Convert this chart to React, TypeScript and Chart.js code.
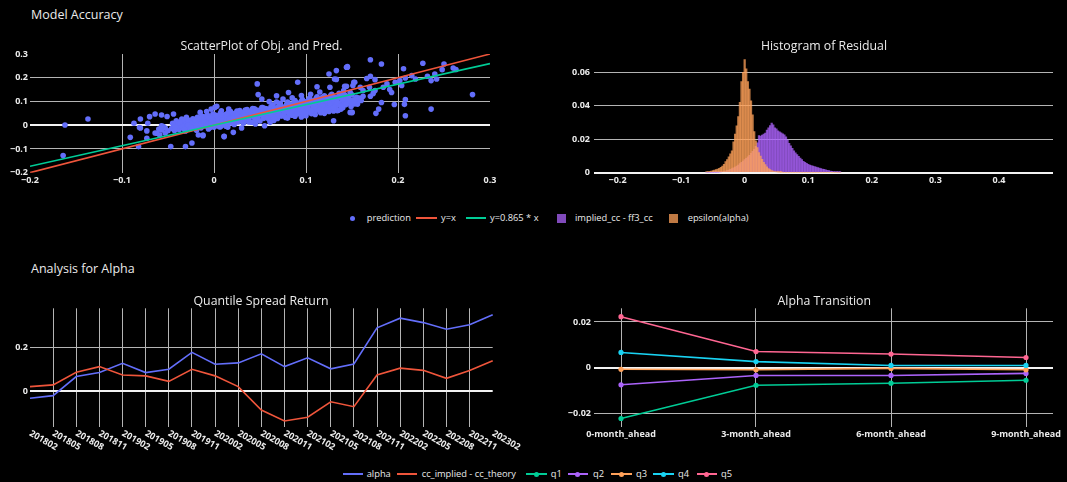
import React, { useEffect, useRef } from "react";
import { Chart, registerables } from "chart.js";

Chart.register(...registerables);

// ---------------- DATA ----------------
// ScatterPlot of Obj. and Pred. : [objective, prediction]
const predictionPoints: [number, number][] = [
  // sparse points on the left
  [-0.162, 0.001], [-0.137, 0.026], [-0.164, -0.128], [-0.087, 0.008], [-0.08, 0.026], [-0.07, 0.036],
  [-0.064, 0.047], [-0.057, 0.043], [-0.051, 0.037], [-0.044, 0.047], [-0.072, 0.008], [-0.08, -0.012],
  [-0.091, -0.051], [-0.082, -0.09], [-0.073, -0.055], [-0.064, -0.033], [-0.059, -0.041], [-0.055, -0.006],
  [-0.047, -0.09], [-0.031, -0.09], [-0.024, -0.075], [-0.017, -0.041], [-0.012, -0.044], [0.011, -0.048],
  [-0.06, -0.016], [-0.057, -0.02], [-0.053, -0.012], [-0.05, -0.023], [-0.053, -0.033], [-0.057, -0.002],
  [-0.041, 0.019], [-0.035, 0.026], [-0.03, 0.033], [-0.039, 0.005], [-0.033, -0.002], [-0.03, 0.012],
  [-0.015, 0.054], [-0.008, 0.058], [-0.003, 0.068], [0.001, 0.075], [0.008, 0.061], [0.016, 0.068],
  [-0.081, -0.01], [-0.073, -0.024], [-0.062, -0.034],
  // sparse points in the middle
  [0.144, 0.244], [0.133, 0.23], [0.125, 0.216], [0.131, 0.195], [0.152, 0.181], [0.091, 0.181],
  [0.047, 0.174], [0.112, 0.162], [0.126, 0.16], [0.142, 0.164], [0.048, 0.129], [0.052, 0.11],
  [0.081, 0.138], [0.068, 0.124], [0.15, 0.054], [0.13, 0.019], [0.134, 0.061], [0.155, 0.096],
  [0.061, 0.012], [0.055, -0.002], [0.021, -0.03], [0.011, -0.047], [-0.012, -0.041], [0.003, 0.08],
  [-0.001, 0.047], [0.133, 0.193], [0.145, 0.247], [0.148, 0.054],
  // sparse points on the right
  [0.17, 0.276], [0.182, 0.258], [0.145, 0.244], [0.206, 0.238], [0.227, 0.261], [0.25, 0.258],
  [0.26, 0.241], [0.263, 0.235], [0.248, 0.234], [0.24, 0.216], [0.232, 0.206], [0.242, 0.195],
  [0.236, 0.188], [0.215, 0.209], [0.219, 0.195], [0.208, 0.199], [0.204, 0.167], [0.197, 0.181],
  [0.281, 0.129], [0.236, 0.068], [0.208, 0.108], [0.207, 0.088], [0.208, 0.04], [0.196, 0.087],
  [0.182, 0.096], [0.179, 0.068], [0.176, 0.05], [0.15, 0.054], [0.138, 0.068], [0.156, 0.089],
  [0.162, 0.122], [0.17, 0.122], [0.173, 0.134], [0.175, 0.146], [0.166, 0.197], [0.17, 0.206],
  [0.175, 0.192], [0.169, 0.16], [0.184, 0.16], [0.188, 0.174], [0.191, 0.15], [0.193, 0.138],
  [0.153, 0.181], [0.151, 0.167], [0.144, 0.164], [0.141, 0.146], [0.144, 0.117], [0.155, 0.11],
  [0.162, 0.146], [0.159, 0.16], [0.148, 0.139], [0.139, 0.124], [0.202, 0.188],
  // dense cloud
  [-0.046, -0.014], [-0.044, 0.001], [-0.043, -0.022], [-0.041, -0.006], [-0.039, 0.009], [-0.038, -0.018],
  [-0.036, 0.003], [-0.034, -0.011], [-0.033, 0.015], [-0.031, -0.024], [-0.03, 0.006], [-0.029, -0.004],
  [-0.027, 0.019], [-0.026, -0.015], [-0.024, 0.009], [-0.023, 0.027], [-0.022, -0.006], [-0.02, 0.014],
  [-0.019, -0.021], [-0.018, 0.033], [-0.017, 0.002], [-0.015, 0.021], [-0.014, -0.011], [-0.013, 0.038],
  [-0.012, 0.008], [-0.01, 0.026], [-0.009, -0.003], [-0.008, 0.015], [-0.007, 0.042], [-0.006, -0.016],
  [-0.005, 0.031], [-0.004, 0.005], [-0.002, 0.019], [-0.001, 0.046], [0.0, -0.008], [0.001, 0.029],
  [0.002, 0.011], [0.003, 0.038], [0.004, -0.002], [0.006, 0.022], [0.007, 0.051], [0.008, 0.006],
  [0.009, 0.034], [0.011, 0.016], [0.012, 0.044], [0.013, -0.004], [0.014, 0.027], [0.016, 0.055],
  [0.017, 0.01], [0.018, 0.037], [0.02, 0.02], [0.021, 0.048], [0.022, 0.003], [0.024, 0.031],
  [0.025, 0.06], [0.026, 0.014], [0.028, 0.041], [0.029, 0.025], [0.03, 0.053], [0.032, 0.008],
  [0.033, 0.036], [0.034, 0.064], [0.036, 0.019], [0.037, 0.046], [0.038, 0.03], [0.04, 0.058],
  [0.041, 0.013], [0.042, 0.04], [0.044, 0.069], [0.045, 0.024], [0.046, 0.051], [0.048, 0.035],
  [0.049, 0.063], [0.05, 0.018], [0.052, 0.045], [0.053, 0.074], [0.054, 0.029], [0.056, 0.056],
  [0.057, 0.04], [0.058, 0.068], [0.06, 0.024], [0.061, 0.05], [0.062, 0.079], [0.064, 0.034],
  [0.065, 0.061], [0.066, 0.045], [0.068, 0.073], [0.069, 0.028], [0.07, 0.055], [0.072, 0.084],
  [0.073, 0.039], [0.074, 0.066], [0.076, 0.05], [0.077, 0.078], [0.078, 0.033], [0.08, 0.06],
  [0.081, 0.089], [0.082, 0.044], [0.084, 0.071], [0.085, 0.055], [0.086, 0.083], [0.088, 0.038],
  [0.089, 0.065], [0.09, 0.094], [0.092, 0.049], [0.093, 0.076], [0.094, 0.06], [0.096, 0.088],
  [0.097, 0.043], [0.098, 0.07], [0.1, 0.099], [0.101, 0.054], [0.102, 0.081], [0.104, 0.065],
  [0.105, 0.093], [0.106, 0.048], [0.108, 0.075], [0.109, 0.104], [0.11, 0.059], [0.112, 0.086],
  [0.113, 0.07], [0.114, 0.098], [0.116, 0.053], [0.117, 0.08], [0.118, 0.11], [0.12, 0.064],
  [0.121, 0.091], [0.122, 0.075], [0.124, 0.103], [0.125, 0.058], [0.126, 0.085], [0.128, 0.116],
  [0.129, 0.069], [0.13, 0.096], [0.132, 0.08], [0.133, 0.108], [0.135, 0.063], [0.136, 0.09],
  [0.138, 0.12], [0.14, 0.074], [0.141, 0.101], [0.143, 0.086], [0.145, 0.113], [0.147, 0.095],
  [0.149, 0.079], [0.151, 0.106], [0.153, 0.09], [0.155, 0.118],
  [-0.04, -0.012], [-0.035, -0.004], [-0.028, 0.001], [-0.021, 0.006], [-0.016, 0.012], [-0.011, 0.017],
  [-0.003, 0.026], [0.005, 0.03], [0.01, 0.024], [0.015, 0.041], [0.019, 0.029], [0.023, 0.045],
  [0.027, 0.033], [0.031, 0.046], [0.035, 0.052], [0.039, 0.045], [0.043, 0.057], [0.047, 0.044],
  [0.051, 0.06], [0.055, 0.048], [0.059, 0.062], [0.063, 0.067], [0.067, 0.058], [0.071, 0.07],
  [0.075, 0.063], [0.079, 0.073], [0.083, 0.078], [0.087, 0.072], [0.091, 0.083], [0.095, 0.079],
  [0.099, 0.087], [0.103, 0.09], [0.107, 0.086], [0.111, 0.095], [0.115, 0.092], [0.119, 0.097],
  [0.123, 0.101], [0.127, 0.099], [0.131, 0.104], [0.134, 0.112], [0.139, 0.108], [0.142, 0.094],
  [0.146, 0.104], [0.15, 0.094], [0.144, 0.122], [0.137, 0.127], [0.127, 0.126], [0.119, 0.12],
  [0.111, 0.113], [0.103, 0.108], [0.095, 0.101], [0.087, 0.094], [0.079, 0.088], [0.071, 0.081],
  [0.063, 0.073], [0.055, 0.066], [0.047, 0.06], [0.039, 0.052], [0.031, 0.04], [0.023, 0.018],
  [0.015, -0.008], [0.007, -0.006], [0.085, 0.042], [0.093, 0.054], [0.101, 0.062], [0.109, 0.066],
  [0.117, 0.07], [0.125, 0.074], [0.133, 0.084], [0.141, 0.088],
  [0.06, 0.1], [0.075, 0.11], [0.095, 0.125], [0.105, 0.13], [0.115, 0.14], [0.085, 0.115], [0.068, 0.098],
  [0.065, 0.02], [0.08, 0.03], [0.095, 0.035], [0.11, 0.045], [0.12, 0.05], [0.1, 0.04], [0.03, -0.012],
  [0.045, 0.005], [0.13, 0.06],
  [-0.045, 0.008], [-0.042, -0.009], [-0.037, 0.012], [-0.032, -0.017], [-0.028, 0.022], [-0.025, -0.009],
  [-0.021, 0.024], [-0.018, -0.012], [-0.016, 0.029], [-0.013, -0.002], [-0.011, 0.035], [-0.009, 0.01],
  [-0.006, 0.036], [-0.004, -0.01], [-0.002, 0.03], [0.0, 0.016], [0.002, 0.042], [0.004, 0.02],
  [0.006, -0.006], [0.008, 0.045], [0.01, 0.002], [0.012, 0.032], [0.014, 0.048], [0.016, 0.018],
  [0.018, 0.058], [0.02, 0.008], [0.022, 0.036], [0.024, 0.052], [0.026, 0.024], [0.028, 0.062],
  [0.03, 0.018], [0.032, 0.05], [0.034, 0.028], [0.036, 0.066], [0.038, 0.014], [0.04, 0.04],
  [0.042, 0.07], [0.044, 0.032], [0.046, 0.064], [0.048, 0.022], [0.05, 0.054], [0.052, 0.074],
  [0.054, 0.04], [0.056, 0.07], [0.058, 0.03], [0.06, 0.06], [0.062, 0.044], [0.064, 0.086],
  [0.066, 0.032], [0.068, 0.064], [0.07, 0.046], [0.072, 0.092], [0.074, 0.04], [0.076, 0.072],
  [0.078, 0.056], [0.08, 0.098], [0.082, 0.05], [0.084, 0.086], [0.086, 0.064], [0.088, 0.104],
  [0.09, 0.048], [0.092, 0.082], [0.094, 0.07], [0.096, 0.108], [0.098, 0.056], [0.1, 0.088],
  [0.102, 0.07], [0.104, 0.114], [0.106, 0.06], [0.108, 0.096], [0.11, 0.078], [0.112, 0.12],
  [0.114, 0.064], [0.116, 0.1], [0.118, 0.084], [0.12, 0.124], [0.122, 0.066], [0.124, 0.11],
  [0.126, 0.092], [0.128, 0.13], [0.13, 0.074], [0.132, 0.118], [0.134, 0.096], [0.136, 0.134],
  [0.138, 0.08], [0.14, 0.112], [0.142, 0.128], [0.144, 0.09], [0.146, 0.118], [0.148, 0.104],
  [0.15, 0.128], [0.152, 0.1], [0.154, 0.11], [0.158, 0.114], [0.16, 0.104],
  [-0.019, 0.0], [-0.014, 0.006], [-0.008, 0.003], [-0.003, 0.012], [0.001, 0.004], [0.005, 0.012],
  [0.009, 0.022], [0.013, 0.014], [0.017, 0.026], [0.021, 0.03], [0.025, 0.04], [0.029, 0.034],
  [0.033, 0.046], [0.037, 0.056], [0.041, 0.05], [0.045, 0.06], [0.049, 0.05], [0.053, 0.058],
  [0.057, 0.052], [0.061, 0.064], [0.065, 0.07], [0.069, 0.062], [0.073, 0.076], [0.077, 0.068],
  [0.081, 0.08], [0.085, 0.074], [0.089, 0.088], [0.093, 0.09], [0.097, 0.082], [0.101, 0.098],
  [0.105, 0.104], [0.109, 0.09], [0.113, 0.108], [0.117, 0.116], [0.121, 0.106], [0.125, 0.118],
];
const identityLine: [number, number][] = [[-0.2, -0.2], [0.3, 0.3]];
const fitLine: [number, number][] = [[-0.2, -0.173], [0.3, 0.2595]];
const scatterTicks = [-0.2, -0.1, 0, 0.1, 0.2, 0.3];

// Histogram of Residual (bin centres, probability per bin)
const residualBins = [
  -0.06, -0.0575, -0.055, -0.0525, -0.05, -0.0475, -0.045, -0.0425, -0.04, -0.0375,
  -0.035, -0.0325, -0.03, -0.0275, -0.025, -0.0225, -0.02, -0.0175, -0.015, -0.0125,
  -0.01, -0.0075, -0.005, -0.0025, 0, 0.0025, 0.005, 0.0075, 0.01, 0.0125,
  0.015, 0.0175, 0.02, 0.0225, 0.025, 0.0275, 0.03, 0.0325, 0.035, 0.0375,
  0.04, 0.0425, 0.045, 0.0475, 0.05, 0.0525, 0.055, 0.0575, 0.06, 0.0625,
  0.065, 0.0675, 0.07, 0.0725, 0.075, 0.0775, 0.08, 0.0825, 0.085, 0.0875,
  0.09, 0.0925, 0.095, 0.0975, 0.1, 0.1025, 0.105, 0.1075, 0.11, 0.1125,
  0.115, 0.1175, 0.12, 0.1225, 0.125, 0.1275, 0.13, 0.1325, 0.135, 0.1375,
  0.14, 0.1425, 0.145, 0.1475, 0.15,
];
const impliedCcMinusFf3Cc = [
  0, 0, 0, 0, 0.0001, 0.0001, 0.0002, 0.0002, 0.0003, 0.0004,
  0.0006, 0.0008, 0.001, 0.0013, 0.0016, 0.002, 0.0024, 0.0029, 0.0034, 0.004,
  0.0046, 0.0054, 0.0062, 0.007, 0.0078, 0.0086, 0.0095, 0.0104, 0.0115, 0.0128,
  0.014, 0.0158, 0.0178, 0.0222, 0.0218, 0.0224, 0.023, 0.0236, 0.0254, 0.0268,
  0.0282, 0.0296, 0.0286, 0.0268, 0.0262, 0.025, 0.0244, 0.0238, 0.0232, 0.0226,
  0.0214, 0.0196, 0.0176, 0.016, 0.0146, 0.013, 0.0118, 0.0108, 0.0098, 0.0088,
  0.0078, 0.0068, 0.0062, 0.0056, 0.005, 0.0046, 0.0042, 0.0039, 0.0037, 0.0034,
  0.003, 0.0028, 0.0025, 0.0022, 0.002, 0.0017, 0.0014, 0.0012, 0.001, 0.0008,
  0.0007, 0.0005, 0.0004, 0.0003, 0.0003,
];
const epsilonAlpha = [
  0.0005, 0.0006, 0.0008, 0.001, 0.0012, 0.0015, 0.0018, 0.0021, 0.0026, 0.0032,
  0.004, 0.005, 0.0066, 0.0078, 0.0095, 0.0112, 0.013, 0.0185, 0.023, 0.028,
  0.0335, 0.042, 0.0545, 0.06, 0.0675, 0.062, 0.0545, 0.05, 0.043, 0.0345,
  0.0245, 0.019, 0.015, 0.012, 0.01, 0.008, 0.0062, 0.0048, 0.0035, 0.0025,
  0.0018, 0.0012, 0.0009, 0.0006, 0.0004, 0.0003, 0.0002, 0.0001, 0, 0,
  0, 0, 0, 0, 0, 0, 0, 0, 0, 0,
  0, 0, 0, 0, 0, 0, 0, 0, 0, 0,
  0, 0, 0, 0, 0, 0, 0, 0, 0, 0,
  0, 0, 0, 0, 0,
];
const histXTicks = [-0.2, -0.1, 0, 0.1, 0.2, 0.3, 0.4];
const histYTicks = [0, 0.02, 0.04, 0.06];

// Quantile Spread Return
const periods = [
  "201802", "201805", "201808", "201811", "201902", "201905", "201908", "201911", "202002", "202005",
  "202008", "202011", "202102", "202105", "202108", "202111", "202202", "202205", "202208", "202211", "202302",
];
const alphaSpread = [
  -0.032, -0.02, 0.067, 0.085, 0.127, 0.085, 0.1, 0.177, 0.123, 0.129,
  0.17, 0.112, 0.152, 0.102, 0.124, 0.288, 0.332, 0.312, 0.282, 0.302, 0.348,
];
const ccSpread = [
  0.021, 0.029, 0.086, 0.112, 0.074, 0.07, 0.045, 0.1, 0.07, 0.021,
  -0.085, -0.135, -0.118, -0.048, -0.07, 0.074, 0.105, 0.095, 0.059, 0.094, 0.139,
];
const spreadYTicks = [0, 0.2];

// Alpha Transition
const horizons = ["0-month_ahead", "3-month_ahead", "6-month_ahead", "9-month_ahead"];
const q1 = [-0.0224, -0.0078, -0.0069, -0.0056];
const q2 = [-0.0076, -0.0035, -0.0035, -0.0026];
const q3 = [-0.0008, -0.001, -0.0004, -0.001];
const q4 = [0.0066, 0.0026, 0.0009, 0.0009];
const q5 = [0.0223, 0.007, 0.0059, 0.0044];
const transitionYTicks = [-0.02, 0, 0.02];

// ---------------- STYLE ----------------
const FONT = '"Open Sans", "DejaVu Sans", Arial, sans-serif';
const TEXT = "#ebebeb";
const GRID = "#b4b4b4";
const ZERO = "#f2f2f2";
const BLUE = "#636efa";
const RED = "#EF553B";
const GREEN = "#00cc96";
const PURPLE = "#ab63fa";
const ORANGE = "#FFA15A";
const CYAN = "#19d3f3";
const PINK = "#FF6692";
const tickFont = { family: FONT, size: 9, weight: "bold" as const };

const fmt = (v: any) => {
  const n = Number(v);
  return (n < 0 ? "\u2212" : "") + String(Math.abs(n));
};

interface Frame { left: number; top: number; width: number; height: number; L: number; T: number; R: number; B: number; }
const dims = (f: Frame) => ({
  yW: f.L - f.left,
  padTop: f.T - f.top,
  padRight: f.left + f.width - f.R,
  xH: f.top + f.height - f.B,
});

const fixX = (h: number) => (s: any) => {
  s.height = h; s.paddingLeft = 0; s.paddingRight = 0; s.paddingTop = 0; s.paddingBottom = 0;
};
const fixY = (w: number) => (s: any) => {
  s.width = w; s.paddingLeft = 0; s.paddingRight = 0; s.paddingTop = 0; s.paddingBottom = 0;
};
const fixedTicks = (values: number[]) => (s: any) => {
  s.ticks = values.map((value) => ({ value }));
};
const gridStyle = (hidden: number[], zeroBold: boolean) => ({
  color: (c: any) => {
    const v = c.tick ? c.tick.value : NaN;
    if (hidden.includes(v)) return "rgba(0,0,0,0)";
    return zeroBold && v === 0 ? ZERO : GRID;
  },
  lineWidth: (c: any) => (zeroBold && c.tick && c.tick.value === 0 ? 2 : 1),
  drawTicks: false,
});

const baseOptions = (d: ReturnType<typeof dims>) => ({
  responsive: false,
  maintainAspectRatio: false,
  animation: false,
  devicePixelRatio: 1,
  events: [],
  layout: { padding: { left: 0, top: d.padTop, right: d.padRight, bottom: 0 } },
  plugins: { legend: { display: false }, title: { display: false }, tooltip: { enabled: false } },
});

const rotatedPeriodLabels = {
  id: "rotatedPeriodLabels",
  afterDraw(chart: any) {
    const scale = chart.scales.x;
    const ctx = chart.ctx;
    ctx.save();
    ctx.font = `bold 9px ${FONT}`;
    ctx.fillStyle = TEXT;
    ctx.textAlign = "left";
    ctx.textBaseline = "middle";
    periods.forEach((p, i) => {
      const x = scale.getPixelForValue(i);
      ctx.save();
      ctx.translate(x, scale.top + 6);
      ctx.rotate(Math.PI / 6);
      ctx.fillText(p, 0, 0);
      ctx.restore();
    });
    ctx.restore();
  },
};

// ---------------- CHART CONFIGS ----------------
const scatterFrame: Frame = { left: 0, top: 40, width: 505, height: 160, L: 30, T: 54, R: 490, B: 172.7 };
const histFrame: Frame = { left: 550, top: 40, width: 517, height: 160, L: 594, T: 54, R: 1053, B: 172.7 };
const spreadFrame: Frame = { left: 0, top: 295, width: 530, height: 170, L: 30, T: 308.3, R: 492.7, B: 426.7 };
const transFrame: Frame = { left: 550, top: 295, width: 517, height: 150, L: 594, T: 308.3, R: 1053, B: 426.7 };

const scatterConfig = (): any => {
  const d = dims(scatterFrame);
  return {
    type: "scatter",
    data: {
      datasets: [
        {
          type: "line", label: "y=0.865 * x", data: fitLine.map(([x, y]) => ({ x, y })),
          borderColor: GREEN, borderWidth: 1.6, pointRadius: 0, fill: false, order: 0,
        },
        {
          type: "line", label: "y=x", data: identityLine.map(([x, y]) => ({ x, y })),
          borderColor: RED, borderWidth: 1.6, pointRadius: 0, fill: false, order: 1,
        },
        {
          label: "prediction", data: predictionPoints.map(([x, y]) => ({ x, y })),
          backgroundColor: BLUE, borderWidth: 0, pointRadius: 2.8, order: 2,
        },
      ],
    },
    options: {
      ...baseOptions(d),
      scales: {
        x: {
          type: "linear", min: -0.2, max: 0.3,
          afterBuildTicks: fixedTicks(scatterTicks), afterFit: fixX(d.xH),
          ticks: { callback: fmt, font: tickFont, color: TEXT, padding: 2, autoSkip: false, maxRotation: 0 },
          grid: gridStyle([-0.2, 0.3], false), border: { display: false },
        },
        y: {
          type: "linear", min: -0.2, max: 0.3,
          afterBuildTicks: fixedTicks(scatterTicks), afterFit: fixY(d.yW),
          ticks: { callback: fmt, font: tickFont, color: TEXT, padding: 2 },
          grid: gridStyle([-0.2, 0.3], true), border: { display: false },
        },
      },
    },
  };
};

const histConfig = (): any => {
  const d = dims(histFrame);
  const common = { grouped: false, barPercentage: 1, categoryPercentage: 1, borderWidth: 0 };
  return {
    type: "bar",
    data: {
      datasets: [
        {
          label: "epsilon(alpha)", data: residualBins.map((x, i) => ({ x, y: epsilonAlpha[i] })),
          backgroundColor: "rgba(255,161,90,0.75)", order: 0, ...common,
        },
        {
          label: "implied_cc - ff3_cc", data: residualBins.map((x, i) => ({ x, y: impliedCcMinusFf3Cc[i] })),
          backgroundColor: "rgba(171,99,250,0.75)", order: 1, ...common,
        },
      ],
    },
    options: {
      ...baseOptions(d),
      scales: {
        x: {
          type: "linear", min: -0.237, max: 0.485, offset: false,
          afterBuildTicks: fixedTicks(histXTicks), afterFit: fixX(d.xH),
          ticks: { callback: fmt, font: tickFont, color: TEXT, padding: 2, autoSkip: false, maxRotation: 0 },
          grid: { display: false, offset: false, drawTicks: false }, border: { display: false },
        },
        y: {
          type: "linear", min: 0, max: 0.0709,
          afterBuildTicks: fixedTicks(histYTicks), afterFit: fixY(d.yW),
          ticks: { callback: fmt, font: tickFont, color: TEXT, padding: 4 },
          grid: gridStyle([], true), border: { display: false },
        },
      },
    },
  };
};

const spreadConfig = (): any => {
  const d = dims(spreadFrame);
  return {
    type: "line",
    data: {
      labels: periods,
      datasets: [
        { label: "alpha", data: alphaSpread, borderColor: BLUE, borderWidth: 1.6, pointRadius: 0, tension: 0, order: 1 },
        { label: "cc_implied - cc_theory", data: ccSpread, borderColor: RED, borderWidth: 1.6, pointRadius: 0, tension: 0, order: 0 },
      ],
    },
    options: {
      ...baseOptions(d),
      scales: {
        x: {
          type: "category", offset: false, afterFit: fixX(d.xH),
          ticks: { display: false },
          grid: { ...gridStyle([0, periods.length - 1], false), offset: false }, border: { display: false },
        },
        y: {
          type: "linear", min: -0.161, max: 0.377,
          afterBuildTicks: fixedTicks(spreadYTicks), afterFit: fixY(d.yW),
          ticks: { callback: fmt, font: tickFont, color: TEXT, padding: 2 },
          grid: gridStyle([], true), border: { display: false },
        },
      },
    },
    plugins: [rotatedPeriodLabels],
  };
};

const transConfig = (): any => {
  const d = dims(transFrame);
  const series = [
    { label: "q1", values: q1, color: GREEN },
    { label: "q2", values: q2, color: PURPLE },
    { label: "q3", values: q3, color: ORANGE },
    { label: "q4", values: q4, color: CYAN },
    { label: "q5", values: q5, color: PINK },
  ];
  return {
    type: "line",
    data: {
      datasets: series.map((s, i) => ({
        label: s.label,
        data: s.values.map((y, j) => ({ x: j, y })),
        borderColor: s.color, backgroundColor: s.color, borderWidth: 1.6,
        pointRadius: 2.6, pointBorderWidth: 0, tension: 0, order: series.length - 1 - i,
      })),
    },
    options: {
      ...baseOptions(d),
      scales: {
        x: {
          type: "linear", min: -0.2, max: 3.2,
          afterBuildTicks: fixedTicks([0, 1, 2, 3]), afterFit: fixX(d.xH),
          ticks: { callback: (v: any) => horizons[Number(v)] ?? "", font: tickFont, color: TEXT, padding: 2, autoSkip: false, maxRotation: 0 },
          grid: gridStyle([], false), border: { display: false },
        },
        y: {
          type: "linear", min: -0.026, max: 0.026,
          afterBuildTicks: fixedTicks(transitionYTicks), afterFit: fixY(d.yW),
          ticks: { callback: fmt, font: tickFont, color: TEXT, padding: 3 },
          grid: gridStyle([], true), border: { display: false },
        },
      },
    },
  };
};

// ---------------- COMPONENTS ----------------
function ChartCanvas({ frame, build }: { frame: Frame; build: () => any }) {
  const ref = useRef<HTMLCanvasElement | null>(null);
  useEffect(() => {
    if (!ref.current) return;
    const chart = new Chart(ref.current, build());
    return () => chart.destroy();
  }, []);
  return (
    <canvas
      ref={ref}
      width={frame.width}
      height={frame.height}
      style={{ position: "absolute", left: frame.left, top: frame.top, width: frame.width, height: frame.height, display: "block" }}
    />
  );
}

function Text({ x, y, size, center, children }: { x: number; y: number; size: number; center?: boolean; children: React.ReactNode }) {
  return (
    <div
      style={{
        position: "absolute", left: x, top: y, transform: `translate(${center ? "-50%" : "0"}, -50%)`,
        fontFamily: FONT, fontSize: size, lineHeight: 1, color: TEXT, whiteSpace: "nowrap",
      }}
    >
      {children}
    </div>
  );
}

function Seg({ x1, x2, y, color, dot }: { x1: number; x2: number; y: number; color: string; dot?: boolean }) {
  return (
    <>
      <div style={{ position: "absolute", left: x1, top: y - 1, width: x2 - x1, height: 2, background: color }} />
      {dot && (
        <div style={{ position: "absolute", left: (x1 + x2) / 2 - 2.5, top: y - 2.5, width: 5, height: 5, borderRadius: "50%", background: color }} />
      )}
    </>
  );
}

function Box({ x, y, size, color, round }: { x: number; y: number; size: number; color: string; round?: boolean }) {
  return (
    <div style={{ position: "absolute", left: x - size / 2, top: y - size / 2, width: size, height: size, borderRadius: round ? "50%" : 0, background: color }} />
  );
}

export default function App() {
  useEffect(() => {
    document.body.style.margin = "0";
    document.body.style.background = "#000";
  }, []);
  const LG = 9.3;
  return (
    <div style={{ position: "absolute", left: 0, top: 0, width: 1067, height: 482, background: "#000", overflow: "hidden" }}>
      <ChartCanvas frame={scatterFrame} build={scatterConfig} />
      <ChartCanvas frame={histFrame} build={histConfig} />
      <ChartCanvas frame={spreadFrame} build={spreadConfig} />
      <ChartCanvas frame={transFrame} build={transConfig} />

      <Text x={31} y={14.5} size={12.5}>Model Accuracy</Text>
      <Text x={31} y={269} size={12.5}>Analysis for Alpha</Text>
      <Text x={261.5} y={46} size={12.3} center>ScatterPlot of Obj. and Pred.</Text>
      <Text x={824} y={46} size={12.3} center>Histogram of Residual</Text>
      <Text x={261} y={300.7} size={12.3} center>Quantile Spread Return</Text>
      <Text x={824.3} y={300.7} size={12.3} center>Alpha Transition</Text>

      {/* top legend */}
      <Box x={352.3} y={218.3} size={5} color={BLUE} round />
      <Text x={366.7} y={218.3} size={LG}>prediction</Text>
      <Seg x1={416} x2={437.3} y={218.3} color={RED} />
      <Text x={441} y={218.3} size={LG}>y=x</Text>
      <Seg x1={465.7} x2={486} y={218.3} color={GREEN} />
      <Text x={490} y={218.3} size={LG}>y=0.865 * x</Text>
      <Box x={561.5} y={218.3} size={8.5} color="rgba(171,99,250,0.75)" />
      <Text x={575} y={218.3} size={LG}>implied_cc - ff3_cc</Text>
      <Box x={673.3} y={218.3} size={8.5} color="rgba(255,161,90,0.75)" />
      <Text x={687.7} y={218.3} size={LG}>epsilon(alpha)</Text>

      {/* bottom legend */}
      <Seg x1={342.7} x2={363.3} y={474} color={BLUE} />
      <Text x={366.7} y={474} size={LG}>alpha</Text>
      <Seg x1={397.3} x2={417.3} y={474} color={RED} />
      <Text x={421.7} y={474} size={LG}>cc_implied - cc_theory</Text>
      <Seg x1={526} x2={546.7} y={474} color={GREEN} dot />
      <Text x={550.7} y={474} size={LG}>q1</Text>
      <Seg x1={567.7} x2={588} y={474} color={PURPLE} dot />
      <Text x={593} y={474} size={LG}>q2</Text>
      <Seg x1={611} x2={631.7} y={474} color={ORANGE} dot />
      <Text x={636} y={474} size={LG}>q3</Text>
      <Seg x1={653.3} x2={674} y={474} color={CYAN} dot />
      <Text x={678} y={474} size={LG}>q4</Text>
      <Seg x1={696.7} x2={717} y={474} color={PINK} dot />
      <Text x={721} y={474} size={LG}>q5</Text>
    </div>
  );
}
